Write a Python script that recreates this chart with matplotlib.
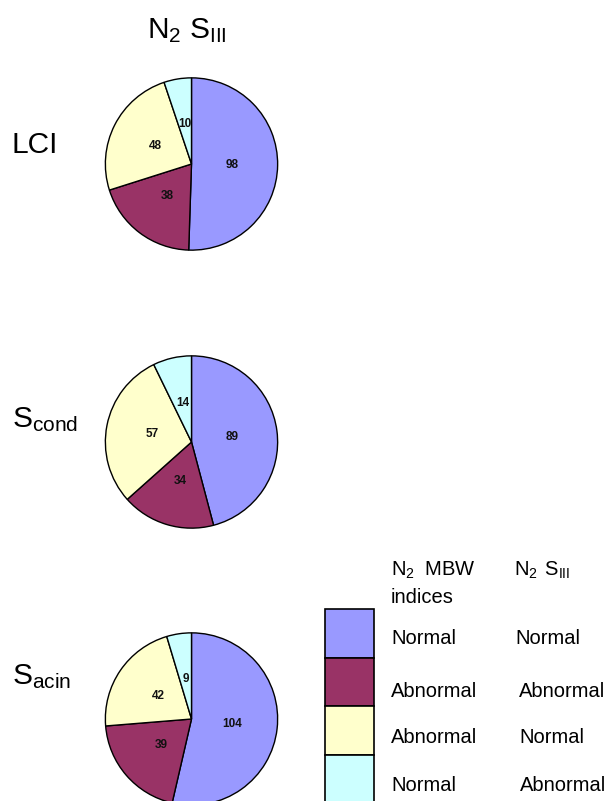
import matplotlib
matplotlib.use("Agg")
import matplotlib.pyplot as plt
from matplotlib.patches import Rectangle

plt.rcParams['font.family'] = ['Liberation Sans', 'DejaVu Sans']
plt.rcParams['mathtext.fontset'] = 'custom'
plt.rcParams['mathtext.rm'] = 'Liberation Sans'
plt.rcParams['mathtext.it'] = 'Liberation Sans:italic'
plt.rcParams['mathtext.bf'] = 'Liberation Sans:bold'

# ---- data ----
row_labels = [r'LCI', r'$\mathregular{S_{cond}}$', r'$\mathregular{S_{acin}}$']
lci_values = [98, 38, 48, 10]
scond_values = [89, 34, 57, 14]
sacin_values = [104, 39, 42, 9]
colors = ['#9999FF', '#993366', '#FFFFCC', '#CCFFFF']
mbw_labels = ['Normal', 'Abnormal', 'Abnormal', 'Normal']
s3_labels = ['Normal', 'Abnormal', 'Normal', 'Abnormal']
title = r'$\mathregular{N_2\ S_{III}}$'
legend_head1 = [r'$\mathregular{N_2\;}$ MBW', 'indices']
legend_head2 = r'$\mathregular{N_2\;\,S_{III}}$'

W, H = 609, 801
fig = plt.figure(figsize=(W / 100, H / 100), dpi=100)

def fx(x):
    return x / W

def fy(y):
    return 1 - y / H

# ---- pies ----
all_values = [lci_values, scond_values, sacin_values]
centers_y = [164, 442, 719]
cx, r = 191.5, 87
label_baselines = [153, 427, 684]

for vals, cy, lab, lb in zip(all_values, centers_y, row_labels, label_baselines):
    ax = fig.add_axes([fx(cx - r), fy(cy + r), 2 * r / W, 2 * r / H])
    tot = sum(vals)
    ax.pie(vals, colors=colors, startangle=90, counterclock=False,
           radius=1, frame=False,
           wedgeprops=dict(edgecolor='black', linewidth=1.0),
           autopct=lambda p, t=tot: f'{round(p * t / 100)}',
           pctdistance=0.47,
           textprops=dict(fontsize=8.5, fontweight='bold', color='#111111'))
    ax.set_xlim(-1.01, 1.01)
    ax.set_ylim(-1.01, 1.01)
    ax.set_aspect('equal')
    ax.axis('off')
    fig.text(fx(12), fy(lb), lab, fontsize=21.5, ha='left', va='baseline')

fig.text(fx(147), fy(38), title, fontsize=21.5, ha='left', va='baseline')

# ---- legend ----
box_top, box_h = 609, 48.5
lax = fig.add_axes([fx(325), fy(box_top + 4 * box_h), 49 / W, 4 * box_h / H])
lax.set_xlim(0, 1)
lax.set_ylim(4, 0)
lax.axis('off')
for i, c in enumerate(colors):
    lax.add_patch(Rectangle((0, i), 1, 1, facecolor=c, edgecolor='black',
                            linewidth=1.2, clip_on=False))

fs = 14.5
fig.text(fx(391), fy(576), legend_head1[0], fontsize=fs, ha='left', va='baseline')
fig.text(fx(391), fy(603), legend_head1[1], fontsize=fs, ha='left', va='baseline')
fig.text(fx(514), fy(576), legend_head2, fontsize=fs, ha='left', va='baseline')

row_base = [644, 697, 743, 791]
col2_x = [515, 519, 519, 520]
for a, b, yb, x2 in zip(mbw_labels, s3_labels, row_base, col2_x):
    fig.text(fx(391), fy(yb), a, fontsize=fs, ha='left', va='baseline')
    fig.text(fx(x2), fy(yb), b, fontsize=fs, ha='left', va='baseline')

fig.savefig('out.png', dpi=100, facecolor='white')
